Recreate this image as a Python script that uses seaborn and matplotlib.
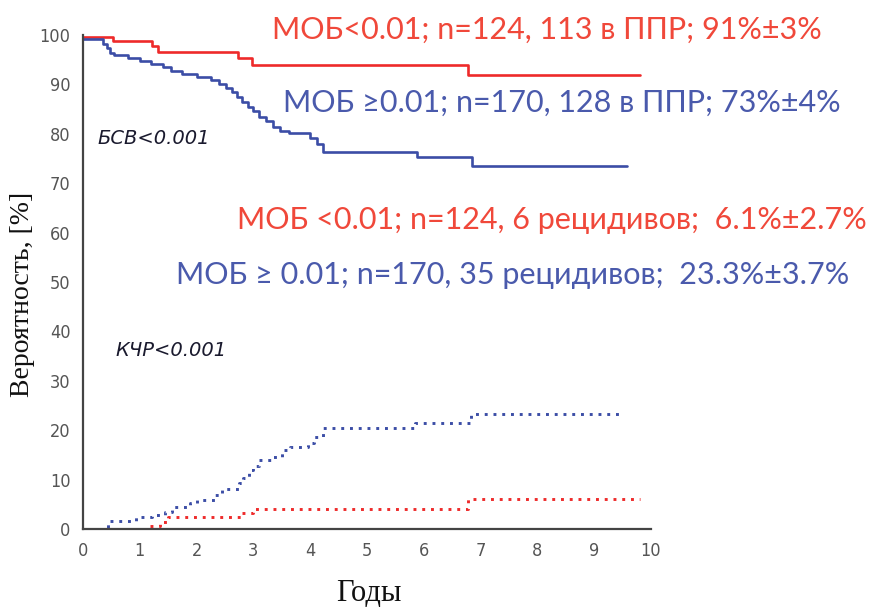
import matplotlib
matplotlib.use("Agg")
import matplotlib.pyplot as plt
import seaborn as sns
import pandas as pd

# ---- data ----
efs_low_t = [0, 0.53, 1.21, 1.32, 2.73, 2.98, 6.78, 9.8]
efs_low_v = [99.6, 98.8, 97.8, 96.6, 95.4, 93.9, 91.9, 91.9]

efs_high_t = [0, 0.36, 0.42, 0.48, 0.55, 0.8, 1.0, 1.2, 1.4, 1.55, 1.75, 2.0, 2.25,
              2.4, 2.52, 2.62, 2.72, 2.8, 2.9, 3.0, 3.1, 3.22, 3.35, 3.47, 3.62,
              4.0, 4.12, 4.22, 5.88, 6.85, 9.58]
efs_high_v = [99.2, 98.2, 97.3, 96.4, 95.9, 95.3, 94.8, 94.2, 93.5, 92.7, 92.2, 91.5,
              90.8, 90.0, 89.2, 88.4, 87.4, 86.4, 85.5, 84.6, 83.4, 82.5, 81.4, 80.6,
              80.1, 79.2, 78.0, 76.3, 75.3, 73.5, 73.5]

cir_low_t = [0, 1.16, 1.36, 1.5, 2.8, 3.0, 6.78, 9.8]
cir_low_v = [0, 0.6, 1.5, 2.4, 3.2, 4.0, 6.1, 6.1]

cir_high_t = [0, 0.44, 0.94, 1.21, 1.44, 1.56, 1.88, 2.0, 2.32, 2.45, 2.75, 2.82,
              2.92, 3.0, 3.1, 3.33, 3.5, 3.64, 3.97, 4.07, 4.22, 5.85, 6.83, 9.47]
cir_high_v = [0, 1.7, 2.4, 2.8, 3.5, 4.4, 5.3, 5.9, 6.8, 8.1, 9.3, 10.4,
              12.0, 12.8, 14.0, 14.6, 15.9, 16.7, 17.5, 18.7, 20.4, 21.5, 23.3, 23.3]

x_ticks = list(range(0, 11))
y_ticks = list(range(0, 101, 10))

RED = "#EE2A2A"
BLUE = "#3B4DA6"
RED_TXT = "#F0483A"
BLUE_TXT = "#4A5AAC"

sns.set_style("white")
fig = plt.figure(figsize=(8.71, 6.08), dpi=100)
ax = fig.add_axes([83/871, 1-529/608, (651-83)/871, (529-35)/608])

sns.lineplot(x=efs_low_t, y=efs_low_v, ax=ax, color=RED, lw=1.9, drawstyle="steps-post", sort=False)
sns.lineplot(x=efs_high_t, y=efs_high_v, ax=ax, color=BLUE, lw=1.9, drawstyle="steps-post", sort=False)
sns.lineplot(x=cir_low_t, y=cir_low_v, ax=ax, color=RED, lw=2.1, drawstyle="steps-post", sort=False,
             linestyle=(0, (1, 2)))
sns.lineplot(x=cir_high_t, y=cir_high_v, ax=ax, color=BLUE, lw=2.1, drawstyle="steps-post", sort=False,
             linestyle=(0, (1, 2)))

ax.set_xlim(0, 10)
ax.set_ylim(0, 100)
ax.set_xticks(x_ticks)
ax.set_yticks(y_ticks)
for s in ["top", "right"]:
    ax.spines[s].set_visible(False)
for s in ["left", "bottom"]:
    ax.spines[s].set_color("#444444")
    ax.spines[s].set_linewidth(1.6)
ax.tick_params(axis="both", direction="out", length=5, width=1.4, color="#444444",
               labelcolor="#555555", labelsize=13, pad=4)
for lab in ax.get_xticklabels() + ax.get_yticklabels():
    lab.set_family(["DejaVu Sans"])
    lab.set_fontstretch("condensed")
ax.grid(False)

ax.set_xlabel("Годы", family="Liberation Serif", fontsize=22, color="#111111")
ax.set_ylabel("Вероятность, [%]", family="Liberation Serif", fontsize=20, color="#111111")
ax.xaxis.set_label_coords(0.5035, -0.13)
ax.xaxis.label.set_va("center")
ax.yaxis.set_label_coords(-0.107, 0.474)
ax.yaxis.label.set_va("center")

tf = ["Lato", "DejaVu Sans"]
def ftxt(px, py, s, color, size, style="normal", fam=tf):
    fig.text(px/871, 1-py/608, s, color=color, fontsize=size, family=fam,
             ha="left", va="center", style=style)

ftxt(272, 30, "МОБ<0.01; n=124, 113 в ППР; 91%±3%", RED_TXT, 22)
ftxt(283, 103, "МОБ ≥0.01; n=170, 128 в ППР; 73%±4%", BLUE_TXT, 22)
ftxt(237, 220, "МОБ <0.01; n=124, 6 рецидивов;  6.1%±2.7%", RED_TXT, 22)
ftxt(176, 275, "МОБ ≥ 0.01; n=170, 35 рецидивов;  23.3%±3.7%", BLUE_TXT, 22)
ftxt(97, 138, "БСВ<0.001", "#1a1a2e", 14, style="italic", fam=["DejaVu Sans"])
ftxt(115, 350, "КЧР<0.001", "#1a1a2e", 14, style="italic", fam=["DejaVu Sans"])

fig.savefig("out.png", dpi=100)
